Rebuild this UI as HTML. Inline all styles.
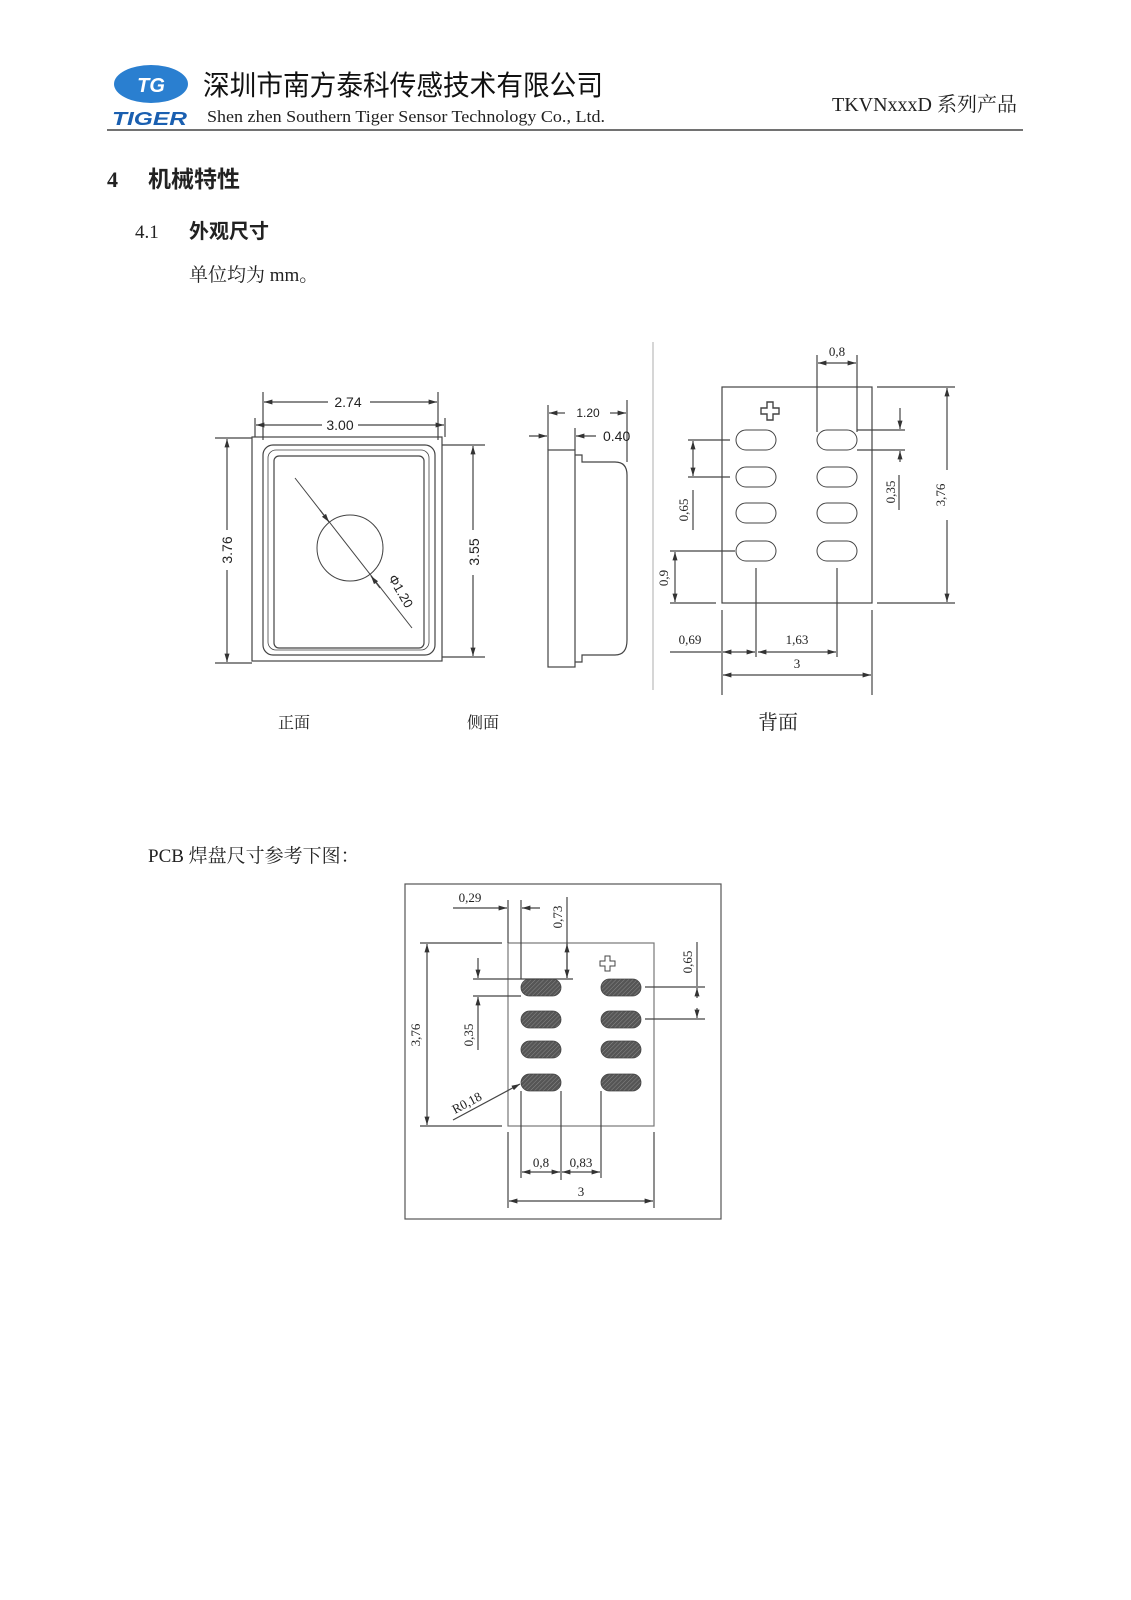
<!DOCTYPE html>
<html><head><meta charset="utf-8"><style>
html,body{margin:0;padding:0;background:#fff;}
svg{display:block;}
text{font-family:"Liberation Serif","Noto Serif CJK SC","Noto Sans CJK SC",serif;fill:#222;}
.s{font-family:"Liberation Sans","Noto Sans CJK SC",sans-serif;}
</style></head><body>
<svg width="1131" height="1600" viewBox="0 0 1131 1600" xmlns="http://www.w3.org/2000/svg">
<defs>
<marker id="a" viewBox="0 0 10 10" refX="10" refY="5" markerWidth="7" markerHeight="7" orient="auto-start-reverse"><path d="M0,2 L10,5 L0,8 z" fill="#333"/></marker>
<pattern id="h" width="3" height="3" patternUnits="userSpaceOnUse" patternTransform="rotate(45)"><rect width="3" height="3" fill="#555"/><line x1="0" y1="0" x2="0" y2="3" stroke="#888" stroke-width="1"/></pattern>
</defs>
<!-- header -->
<ellipse cx="151" cy="84" rx="37" ry="19" fill="#2a7fd0"/>
<text x="151" y="92" font-size="20" font-style="italic" font-weight="bold" fill="#fff" text-anchor="middle" class="s" style="fill:#fff">TG</text>
<text x="112" y="125" font-size="18" font-style="italic" font-weight="bold" class="s" style="fill:#1a5fb0" textLength="75" lengthAdjust="spacingAndGlyphs">TIGER</text>
<text x="203" y="95" font-size="28" class="s" style="fill:#111" textLength="400" lengthAdjust="spacingAndGlyphs">深圳市南方泰科传感技术有限公司</text>
<text x="207" y="122" font-size="17" textLength="398" lengthAdjust="spacingAndGlyphs">Shen zhen Southern Tiger Sensor Technology Co., Ltd.</text>
<line x1="107" y1="130" x2="1023" y2="130" stroke="#444" stroke-width="1.5"/>
<text x="1017" y="111" font-size="20" text-anchor="end">TKVNxxxD 系列产品</text>
<!-- headings -->
<text x="107" y="187" font-size="22" font-weight="bold">4</text>
<text x="148" y="187" font-size="23" font-weight="bold" class="s">机械特性</text>
<text x="135" y="238" font-size="19">4.1</text>
<text x="189" y="238" font-size="20" font-weight="bold" class="s">外观尺寸</text>
<text x="189" y="281" font-size="19">单位均为 mm。</text>
<text x="148" y="862" font-size="19">PCB 焊盘尺寸参考下图：</text>

<g stroke="#444" fill="none" stroke-width="1.2">
<!-- front -->
<rect x="252" y="437" width="190" height="224"/>
<rect x="263" y="445" width="172" height="210" rx="10"/>
<rect x="268" y="450" width="161" height="200" rx="8" stroke-width="0.8"/>
<rect x="274" y="456" width="150" height="192" rx="5"/>
<circle cx="350" cy="548" r="33" stroke-width="1"/>
<line x1="295" y1="478" x2="412" y2="628" stroke-width="1"/>
<line x1="320" y1="510" x2="329" y2="522" marker-end="url(#a)"/>
<line x1="380" y1="588" x2="371" y2="576" marker-end="url(#a)"/>
<line x1="263" y1="392" x2="263" y2="440"/><line x1="438" y1="392" x2="438" y2="440"/>
<line x1="255" y1="418" x2="255" y2="437"/><line x1="445" y1="418" x2="445" y2="437"/>
<line x1="328" y1="402" x2="264" y2="402" marker-end="url(#a)"/><line x1="370" y1="402" x2="437" y2="402" marker-end="url(#a)"/>
<line x1="322" y1="425" x2="256" y2="425" marker-end="url(#a)"/><line x1="358" y1="425" x2="444" y2="425" marker-end="url(#a)"/>
<line x1="215" y1="438" x2="252" y2="438"/><line x1="215" y1="663" x2="252" y2="663"/>
<line x1="227" y1="530" x2="227" y2="439" marker-end="url(#a)"/><line x1="227" y1="570" x2="227" y2="662" marker-end="url(#a)"/>
<line x1="442" y1="445" x2="485" y2="445"/><line x1="442" y1="657" x2="485" y2="657"/>
<line x1="473" y1="530" x2="473" y2="446" marker-end="url(#a)"/><line x1="473" y1="575" x2="473" y2="656" marker-end="url(#a)"/>
<!-- side -->
<rect x="548" y="450" width="27" height="217"/>
<path d="M575,455 L582,455 L582,462 L615,462 Q627,462 627,475 L627,640 Q627,655 615,655 L582,655 L582,662 L575,662"/>
<line x1="548" y1="405" x2="548" y2="450"/><line x1="627" y1="400" x2="627" y2="462"/><line x1="575" y1="428" x2="575" y2="450"/>
<line x1="565" y1="413" x2="549" y2="413" marker-end="url(#a)"/><line x1="610" y1="413" x2="626" y2="413" marker-end="url(#a)"/>
<line x1="529" y1="436" x2="547" y2="436" marker-end="url(#a)"/><line x1="596" y1="436" x2="576" y2="436" marker-end="url(#a)"/>
<!-- back -->
<line x1="653" y1="342" x2="653" y2="690" stroke="#bbb"/>
<rect x="722" y="387" width="150" height="216"/>
<g stroke-width="1">
<rect x="736" y="430" width="40" height="20" rx="10"/><rect x="736" y="467" width="40" height="20" rx="10"/>
<rect x="736" y="503" width="40" height="20" rx="10"/><rect x="736" y="541" width="40" height="20" rx="10"/>
<rect x="817" y="430" width="40" height="20" rx="10"/><rect x="817" y="467" width="40" height="20" rx="10"/>
<rect x="817" y="503" width="40" height="20" rx="10"/><rect x="817" y="541" width="40" height="20" rx="10"/>
<path d="M767,402 h6 v6 h6 v6 h-6 v6 h-6 v-6 h-6 v-6 h6 z" stroke-width="1.4"/>
</g>
<line x1="817" y1="355" x2="817" y2="432"/><line x1="857" y1="355" x2="857" y2="432"/>
<line x1="818" y1="363" x2="856" y2="363" marker-end="url(#a)" marker-start="url(#a)"/>
<line x1="877" y1="387" x2="955" y2="387"/><line x1="877" y1="603" x2="955" y2="603"/>
<line x1="947" y1="470" x2="947" y2="388" marker-end="url(#a)"/><line x1="947" y1="520" x2="947" y2="602" marker-end="url(#a)"/>
<line x1="857" y1="430" x2="905" y2="430"/><line x1="857" y1="450" x2="905" y2="450"/>
<line x1="900" y1="408" x2="900" y2="429" marker-end="url(#a)"/><line x1="900" y1="462" x2="900" y2="451" marker-end="url(#a)"/>
<line x1="899" y1="475" x2="899" y2="510"/>
<line x1="688" y1="440" x2="730" y2="440"/><line x1="688" y1="477" x2="730" y2="477"/>
<line x1="693" y1="441" x2="693" y2="476" marker-end="url(#a)" marker-start="url(#a)"/>
<line x1="693" y1="490" x2="693" y2="530"/>
<line x1="670" y1="551" x2="735" y2="551"/><line x1="670" y1="603" x2="716" y2="603"/>
<line x1="675" y1="552" x2="675" y2="602" marker-end="url(#a)" marker-start="url(#a)"/>
<line x1="722" y1="610" x2="722" y2="695"/><line x1="872" y1="610" x2="872" y2="695"/>
<line x1="756" y1="568" x2="756" y2="657"/><line x1="837" y1="568" x2="837" y2="657"/>
<line x1="670" y1="652" x2="721" y2="652"/>
<line x1="723" y1="652" x2="755" y2="652" marker-end="url(#a)" marker-start="url(#a)"/>
<line x1="758" y1="652" x2="836" y2="652" marker-end="url(#a)" marker-start="url(#a)"/>
<line x1="723" y1="675" x2="871" y2="675" marker-end="url(#a)" marker-start="url(#a)"/>
<!-- PCB -->
<rect x="405" y="884" width="316" height="335" stroke="#555"/>
<rect x="508" y="943" width="146" height="183" stroke="#777"/>
<g stroke="#444" stroke-width="0.8" fill="url(#h)">
<rect x="521" y="979" width="40" height="17" rx="8.5"/><rect x="521" y="1011" width="40" height="17" rx="8.5"/>
<rect x="521" y="1041" width="40" height="17" rx="8.5"/><rect x="521" y="1074" width="40" height="17" rx="8.5"/>
<rect x="601" y="979" width="40" height="17" rx="8.5"/><rect x="601" y="1011" width="40" height="17" rx="8.5"/>
<rect x="601" y="1041" width="40" height="17" rx="8.5"/><rect x="601" y="1074" width="40" height="17" rx="8.5"/>
</g>
<path d="M605,956 h5 v5 h5 v5 h-5 v5 h-5 v-5 h-5 v-5 h5 z" stroke-width="1"/>
<line x1="420" y1="943" x2="502" y2="943"/><line x1="420" y1="1126" x2="502" y2="1126"/>
<line x1="427" y1="944" x2="427" y2="1125" marker-end="url(#a)" marker-start="url(#a)"/>
<line x1="508" y1="900" x2="508" y2="943"/><line x1="521" y1="900" x2="521" y2="979"/>
<line x1="453" y1="908" x2="507" y2="908" marker-end="url(#a)"/><line x1="540" y1="908" x2="522" y2="908" marker-end="url(#a)"/>
<line x1="567" y1="897" x2="567" y2="978" /><line x1="567" y1="955" x2="567" y2="978" marker-end="url(#a)"/><line x1="567" y1="955" x2="567" y2="944" marker-end="url(#a)"/>
<line x1="473" y1="979" x2="573" y2="979"/><line x1="473" y1="996" x2="521" y2="996"/>
<line x1="478" y1="958" x2="478" y2="978" marker-end="url(#a)"/><line x1="478" y1="1050" x2="478" y2="997" marker-end="url(#a)"/>
<line x1="645" y1="987" x2="705" y2="987"/><line x1="645" y1="1019" x2="705" y2="1019"/>
<line x1="697" y1="942" x2="697" y2="986"/><line x1="697" y1="998" x2="697" y2="988" marker-end="url(#a)"/><line x1="697" y1="1008" x2="697" y2="1018" marker-end="url(#a)"/>
<line x1="453" y1="1120" x2="520" y2="1084" marker-end="url(#a)"/>
<line x1="521" y1="1091" x2="521" y2="1178"/><line x1="561" y1="1091" x2="561" y2="1180"/><line x1="601" y1="1091" x2="601" y2="1178"/>
<line x1="508" y1="1132" x2="508" y2="1208"/><line x1="654" y1="1132" x2="654" y2="1208"/>
<line x1="522" y1="1172" x2="560" y2="1172" marker-end="url(#a)" marker-start="url(#a)"/>
<line x1="562" y1="1172" x2="600" y2="1172" marker-end="url(#a)" marker-start="url(#a)"/>
<line x1="509" y1="1201" x2="653" y2="1201" marker-end="url(#a)" marker-start="url(#a)"/>
</g>
<!-- dimension text -->
<g class="s" font-size="14" style="fill:#333">
<text class="s" x="348" y="407" text-anchor="middle" font-size="14">2.74</text>
<text class="s" x="340" y="430" text-anchor="middle" font-size="14">3.00</text>
<text class="s" x="0" y="0" font-size="14" text-anchor="middle" transform="translate(232,550) rotate(-90)">3.76</text>
<text class="s" x="0" y="0" font-size="14" text-anchor="middle" transform="translate(479,552) rotate(-90)">3.55</text>
<text class="s" x="0" y="0" font-size="13" transform="translate(388,578) rotate(60)">Φ1.20</text>
<text class="s" x="588" y="417" text-anchor="middle" font-size="12">1.20</text>
<text class="s" x="603" y="441" font-size="14">0.40</text>
</g>
<g font-size="13" style="fill:#444">
<text x="837" y="356" text-anchor="middle">0,8</text>
<text x="0" y="0" text-anchor="middle" transform="translate(945,495) rotate(-90)">3,76</text>
<text x="0" y="0" text-anchor="middle" transform="translate(895,492) rotate(-90)">0,35</text>
<text x="0" y="0" text-anchor="middle" transform="translate(688,510) rotate(-90)">0,65</text>
<text x="0" y="0" text-anchor="middle" transform="translate(668,578) rotate(-90)">0,9</text>
<text x="690" y="644" text-anchor="middle">0,69</text>
<text x="797" y="644" text-anchor="middle">1,63</text>
<text x="797" y="668" text-anchor="middle">3</text>
<text x="470" y="902" text-anchor="middle">0,29</text>
<text x="0" y="0" text-anchor="middle" transform="translate(562,917) rotate(-90)">0,73</text>
<text x="0" y="0" text-anchor="middle" transform="translate(420,1035) rotate(-90)">3,76</text>
<text x="0" y="0" text-anchor="middle" transform="translate(473,1035) rotate(-90)">0,35</text>
<text x="0" y="0" text-anchor="middle" transform="translate(692,962) rotate(-90)">0,65</text>
<text x="0" y="0" transform="translate(455,1114) rotate(-28)">R0,18</text>
<text x="541" y="1167" text-anchor="middle">0,8</text>
<text x="581" y="1167" text-anchor="middle">0,83</text>
<text x="581" y="1196" text-anchor="middle">3</text>
</g>
<text x="294" y="728" font-size="16" text-anchor="middle">正面</text>
<text x="483" y="728" font-size="16" text-anchor="middle">侧面</text>
<text x="778" y="729" font-size="20" text-anchor="middle">背面</text>
</svg>
</body></html>
